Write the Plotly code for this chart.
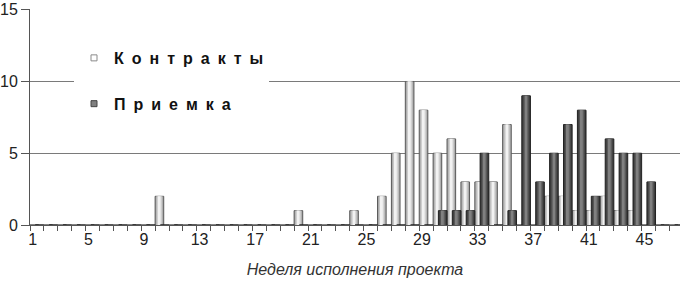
import plotly.graph_objects as go

weeks = list(range(1, 48))
contracts = [0, 0, 0, 0, 0, 0, 0, 0, 0, 2,
             0, 0, 0, 0, 0, 0, 0, 0, 0, 1,
             0, 0, 0, 1, 0, 2, 5, 10, 8, 5,
             6, 3, 3, 3, 7, 0, 0, 2, 2, 1,
             1, 2, 1, 1, 0, 0, 0]
acceptance = [0, 0, 0, 0, 0, 0, 0, 0, 0, 0,
              0, 0, 0, 0, 0, 0, 0, 0, 0, 0,
              0, 0, 0, 0, 0, 0, 0, 0, 0, 1,
              1, 1, 5, 0, 1, 9, 3, 5, 7, 8,
              2, 6, 5, 5, 3, 0, 0]
tick_weeks = [1, 5, 9, 13, 17, 21, 25, 29, 33, 37, 41, 45]
name_contracts = "К\u2002о\u2002н\u2002т\u2002р\u2002а\u2002к\u2002т\u2002ы"
name_accept = "П\u2002р\u2002и\u2002е\u2002м\u2002к\u2002а"
x_title = "Неделя исполнения проекта"

FONT = "Liberation Sans, Arial, sans-serif"

fig = go.Figure()

BW = 0.62
# pseudo-gradient layers: (fraction of width, colour)
light_layers = [(1.0, "#9c9c9c"), (0.8, "#b4b4b4"), (0.6, "#cacaca"), (0.4, "#dedede"), (0.2, "#f2f2f2")]
dark_layers = [(1.0, "#333333"), (0.8, "#444444"), (0.6, "#565656"), (0.4, "#6a6a6a"), (0.2, "#808080")]


def add_bars(values, base_offset, layers, edge):
    center = base_offset + BW / 2
    for i, (frac, col) in enumerate(layers):
        w = BW * frac
        fig.add_trace(go.Bar(
            x=weeks, y=values, width=w, offset=center - w / 2,
            marker=dict(color=col,
                        line=dict(color=edge, width=1 if i == 0 else 0)),
            showlegend=False, hoverinfo="skip"))


add_bars(contracts, -0.5, light_layers, "#5a5a5a")
add_bars(acceptance, 0.5 - BW, dark_layers, "#222222")

# legend entries
fig.add_trace(go.Scatter(x=[None], y=[None], mode="markers", name=name_contracts,
                         legendgroup="a",
                         marker=dict(symbol="square", size=6, color="#ffffff",
                                     line=dict(color="#8a8a8a", width=1))))
fig.add_trace(go.Scatter(x=[None], y=[None], mode="markers", name=name_accept,
                         legendgroup="b",
                         marker=dict(symbol="square", size=6, color="#808080",
                                     line=dict(color="#444444", width=1))))

fig.update_layout(
    width=680, height=283,
    margin=dict(l=30, r=0, t=9, b=58),
    paper_bgcolor="white", plot_bgcolor="white",
    barmode="overlay",
    font=dict(family=FONT, size=16, color="#222222"),
    legend=dict(x=(74 - 30) / 650, y=0.852, xanchor="left", yanchor="top",
                bgcolor="white", borderwidth=0, tracegroupgap=22,
                traceorder="grouped",
                font=dict(family=FONT, size=16, color="#111111", weight="bold")),
    xaxis=dict(
        range=[0.5, 47.26],
        automargin=False,
        tickmode="array",
        tickvals=[w - 0.3 for w in tick_weeks],
        ticktext=[str(w) for w in tick_weeks],
        ticks="", showgrid=False, zeroline=False,
        showline=True, linecolor="#555555", linewidth=1,
        tickfont=dict(size=16, color="#222222"),
        minor=dict(tickmode="linear", tick0=0.5, dtick=1, ticks="outside",
                   ticklen=5, tickcolor="#555555", showgrid=False),
        title=dict(text=x_title, standoff=16,
                   font=dict(size=16, style="italic", color="#333333")),
    ),
    yaxis=dict(
        range=[0, 15.05], tickvals=[0, 5, 10, 15],
        automargin=False, ticklabeloverflow="allow",
        showgrid=True, gridcolor="#7a7a7a", gridwidth=1,
        zeroline=False, showline=True, linecolor="#555555", linewidth=1,
        ticks="outside", ticklen=8, tickcolor="#555555",
        tickfont=dict(size=16, color="#222222"),
    ),
)

fig.write_html("out.html",
               config={"displayModeBar": False},
               post_script="document.body.style.margin='0';document.body.style.overflow='hidden';")
